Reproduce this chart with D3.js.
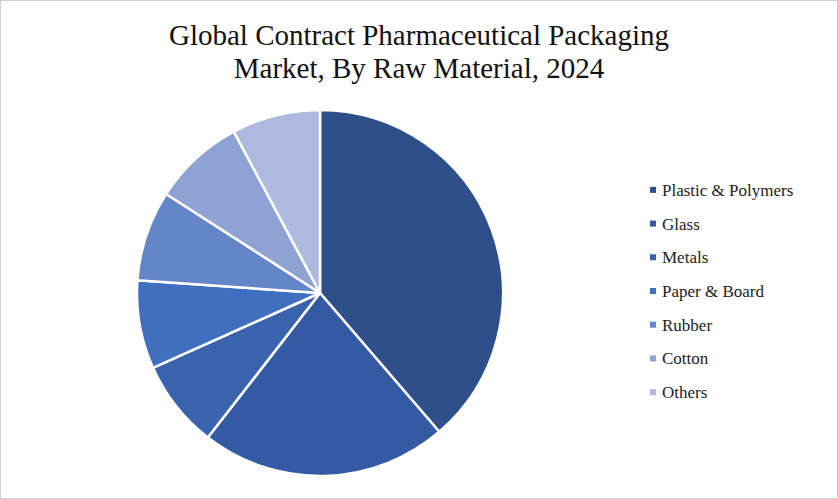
<!DOCTYPE html>
<html><head><meta charset="utf-8">
<script src="https://cdn.jsdelivr.net/npm/d3@7"></script>
<style>body{margin:0;background:#fff}svg{display:block}</style>
</head><body><svg id="c" width="838" height="499"></svg>
<script>
var categories = ["Plastic & Polymers", "Glass", "Metals", "Paper & Board", "Rubber", "Cotton", "Others"];
var shares = [38.7, 21.8, 7.8, 7.8, 8.0, 8.1, 7.8];
var colors = ["#2f4f8a", "#335aa2", "#3963ad", "#416fbf", "#6585c9", "#8ea2d4", "#adb9de"];
var titleLines = ["Global Contract Pharmaceutical Packaging", "Market, By Raw Material, 2024"];

var svg = d3.select("#c"),
    font = "'Liberation Serif', 'DejaVu Serif', serif";

svg.append("rect").attr("x", 0.5).attr("y", 0.5).attr("width", 837).attr("height", 498)
    .attr("fill", "#fff").attr("stroke", "#d0d0d0");

svg.selectAll("text.title").data(titleLines).enter().append("text")
    .attr("x", 419).attr("y", function (d, i) { return 45 + i * 33; })
    .attr("text-anchor", "middle").attr("font-family", font).attr("font-size", 29)
    .attr("fill", "#111").text(function (d) { return d; });

var color = d3.scaleOrdinal().domain(categories).range(colors);
var pie = d3.pie().sort(null).value(function (d) { return d.v; });
var arc = d3.arc().innerRadius(0).outerRadius(183);
var data = categories.map(function (c, i) { return {c: c, v: shares[i]}; });

var g = svg.append("g").attr("transform", "translate(320,293)");
g.selectAll("path").data(pie(data)).enter().append("path")
    .attr("d", arc).attr("fill", function (d) { return color(d.data.c); })
    .attr("stroke", "#fff").attr("stroke-width", 2.5).attr("stroke-linejoin", "round");

var y = d3.scaleBand().domain(categories).range([173, 409]);
var lg = svg.append("g").selectAll("g").data(categories).enter().append("g")
    .attr("transform", function (d) { return "translate(650," + (y(d) + y.bandwidth() / 2) + ")"; });
lg.append("rect").attr("x", 0).attr("y", -3).attr("width", 6).attr("height", 6)
    .attr("fill", function (d) { return color(d); });
lg.append("text").attr("x", 12).attr("dy", "0.35em").attr("font-family", font)
    .attr("font-size", 17).attr("fill", "#222").text(function (d) { return d; });
</script></body></html>
